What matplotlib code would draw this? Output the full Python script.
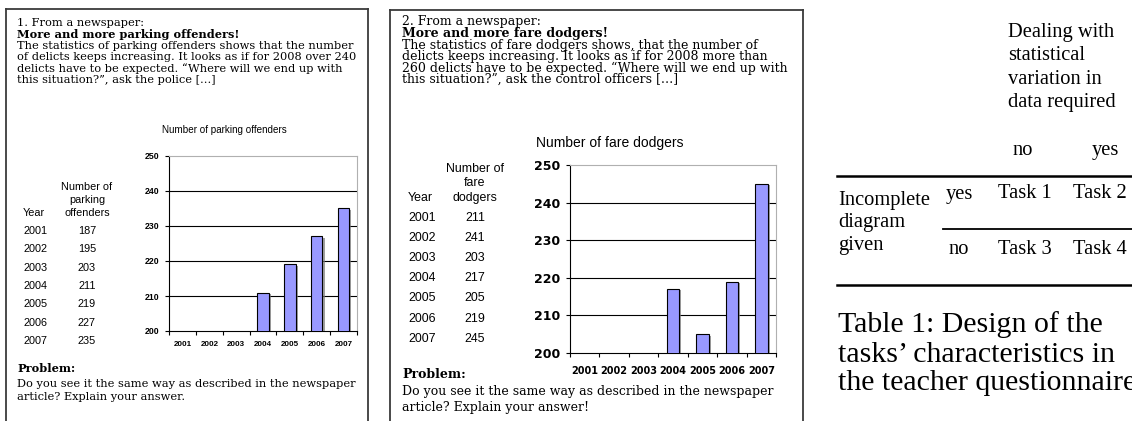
import numpy as np
import matplotlib.pyplot as plt
import matplotlib.patheffects as pe
from matplotlib.lines import Line2D

W, H = 1132, 421

# data of the two tasks
years = [2001, 2002, 2003, 2004, 2005, 2006, 2007]
parking = [187, 195, 203, 211, 219, 227, 235]
fare = [211, 241, 203, 217, 205, 219, 245]
first_shown = 2004          # the diagrams only show the last years
y_ticks = [200, 210, 220, 230, 240, 250]

intro1 = ['1. From a newspaper:',
          'More and more parking offenders!',
          'The statistics of parking offenders shows that the number',
          'of delicts keeps increasing. It looks as if for 2008 over 240',
          'delicts have to be expected. \u201cWhere will we end up with',
          'this situation?\u201d, ask the police [\u2026]']
intro2 = ['2. From a newspaper:',
          'More and more fare dodgers!',
          'The statistics of fare dodgers shows, that the number of',
          'delicts keeps increasing. It looks as if for 2008 more than',
          '260 delicts have to be expected. \u201cWhere will we end up with',
          'this situation?\u201d, ask the control officers [\u2026]']
problem1 = ['Problem:',
            'Do you see it the same way as described in the newspaper',
            'article? Explain your answer.']
problem2 = ['Problem:',
            'Do you see it the same way as described in the newspaper',
            'article? Explain your answer!']

col_head = ['Dealing with', 'statistical', 'variation in', 'data required']
col_levels = ['no', 'yes']
row_head = ['Incomplete', 'diagram', 'given']
row_levels = ['yes', 'no']
tasks = [['Task 1', 'Task 2'], ['Task 3', 'Task 4']]
caption = ['Table 1: Design of the',
           'tasks\u2019 characteristics in',
           'the teacher questionnaire']

fig = plt.figure(figsize=(W / 100, H / 100), dpi=100)


def txt(x, y, s, **kw):
    kw.setdefault('va', 'center')
    fig.text(x / W, 1 - y / H, s, **kw)


def hline(x0, x1, y, lw, color='black'):
    fig.add_artist(Line2D([x0 / W, x1 / W], [1 - y / H, 1 - y / H],
                          transform=fig.transFigure, color=color, lw=lw))


def vline(x, y0, y1, lw, color='black'):
    fig.add_artist(Line2D([x / W, x / W], [1 - y0 / H, 1 - y1 / H],
                          transform=fig.transFigure, color=color, lw=lw))


def panel(left, right, top, intro, ys_intro, problem, ys_prob, xt, size):
    vline(left, top, H + 2, 1.3, '#3a3a3a')
    vline(right, top, H + 2, 1.3, '#3a3a3a')
    hline(left, right, top, 1.3, '#3a3a3a')
    for i, (s, y) in enumerate(zip(intro, ys_intro)):
        txt(xt, y, s, family='DejaVu Serif', fontsize=size,
            fontweight='bold' if i == 1 else 'normal')
    for i, (s, y) in enumerate(zip(problem, ys_prob)):
        txt(xt, y, s, family='DejaVu Serif', fontsize=size,
            fontweight='bold' if i == 0 else 'normal')


def data_table(x_year, x_val, head, y_head, y_rows, values, size):
    for s, y in zip(head, y_head):
        txt(x_val, y, s, family='Liberation Sans', fontsize=size, ha='center')
    txt(x_year, y_head[-1], 'Year', family='Liberation Sans', fontsize=size)
    for yr, v, y in zip(years, values, y_rows):
        txt(x_year, y, str(yr), family='Liberation Sans', fontsize=size)
        txt(x_val, y, str(v), family='Liberation Sans', fontsize=size, ha='center')


def bar_chart(x0, x1, y_top, y_bot, values, title, title_xy, title_size,
              ysize, xsize, fam, ypad, xpad):
    ax = fig.add_axes([x0 / W, 1 - y_bot / H, (x1 - x0) / W, (y_bot - y_top) / H])
    pos = np.arange(len(years))
    shown = [v if yr >= first_shown else np.nan for yr, v in zip(years, values)]
    ax.bar(pos, shown, width=0.43, color='#9999ff', edgecolor='black',
           linewidth=0.8, zorder=3,
           path_effects=[pe.SimplePatchShadow(offset=(1.5, -1), shadow_rgbFace='#777777',
                                              alpha=0.7),
                         pe.Normal()])
    for t in y_ticks[1:-1]:
        ax.axhline(t, color='black', lw=0.8, zorder=1)
    ax.set_xlim(-0.5, len(years) - 0.5)
    ax.set_ylim(y_ticks[0], y_ticks[-1])
    ax.set_yticks(y_ticks)
    ax.set_yticklabels([str(t) for t in y_ticks], family=fam,
                       fontweight='bold', fontsize=ysize)
    ax.set_xticks(pos)
    ax.set_xticklabels([str(y) for y in years], family=fam,
                       fontweight='bold', fontsize=xsize)
    ax.set_xticks(np.arange(-0.5, len(years)), minor=True)
    ax.tick_params(axis='y', direction='out', length=3, width=0.8, pad=ypad)
    ax.tick_params(axis='x', which='major', length=0, pad=xpad)
    ax.tick_params(axis='x', which='minor', direction='out', length=3, width=0.8)
    for side in ['top', 'right']:
        ax.spines[side].set_color('#b0b0b0')
        ax.spines[side].set_linewidth(0.8)
    for side in ['left', 'bottom']:
        ax.spines[side].set_linewidth(0.8)
    txt(title_xy[0], title_xy[1], title, family='Liberation Sans',
        fontsize=title_size, ha='center')


# task 1
panel(6, 368, 9, intro1, [23, 34.4, 45.8, 57.2, 68.6, 80],
      problem1, [369, 384, 397], 17, 8.2)
data_table(23, 87, ['Number of', 'parking', 'offenders'], [187, 200, 213],
           [231 + 18.3 * i for i in range(7)], parking, 7.8)
bar_chart(169, 357, 156, 331, parking, 'Number of parking offenders',
          (224, 130), 7.1, 6.3, 5.8, 'Liberation Sans', 4, 7)

# task 2
panel(390, 803, 10, intro2, [22, 33.5, 45, 56.5, 68, 79.5],
      problem2, [375, 392, 407], 402, 9.0)
data_table(408, 475, ['Number of', 'fare', 'dodgers'], [169, 183, 198],
           [218 + 20.1 * i for i in range(7)], fare, 8.9)
bar_chart(570, 776, 165, 353, fare, 'Number of fare dodgers',
          (610, 143), 10, 9, 7, 'DejaVu Sans', 4, 9)

# design table
serif = 'Liberation Serif'
for s, y in zip(col_head, [33, 56, 80, 103]):
    txt(1008, y, s, family=serif, fontsize=14.8)
for s, x in zip(col_levels, [1023, 1105]):
    txt(x, 150, s, family=serif, fontsize=14.8, ha='center')
hline(837, W + 2, 176, 1.8)
hline(943, W + 2, 229, 1.3)
hline(837, W + 2, 285, 1.8)
for s, y in zip(row_head, [200, 222, 246]):
    txt(838, y, s, family=serif, fontsize=14.8)
for lev, row, y in zip(row_levels, tasks, [194, 249]):
    txt(959, y, lev, family=serif, fontsize=14.8, ha='center')
    for s, x in zip(row, [998, 1073]):
        txt(x, y, s, family=serif, fontsize=14.8)
# the caption runs past the right edge, as in the original page crop
for s, y in zip(caption, [325, 355, 383]):
    txt(838, y, s, family=serif, fontsize=21.5)

fig.savefig('out.png', dpi=100)
